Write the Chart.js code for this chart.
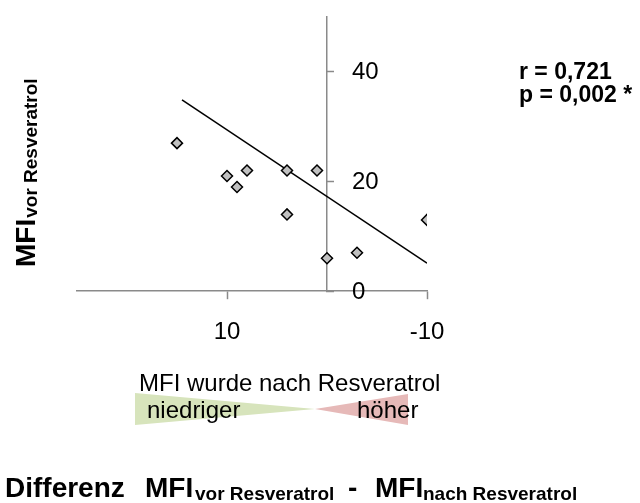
<!DOCTYPE html>
<html>
<head>
<meta charset="utf-8">
<script src="https://cdn.jsdelivr.net/npm/chart.js@4.4.1/dist/chart.umd.min.js"></script>
<style>
  html, body { margin: 0; padding: 0; background: #ffffff; }
  #wrap { position: relative; width: 640px; height: 503px; }
</style>
</head>
<body>
<div id="wrap"><canvas id="mfiChart"></canvas></div>
<script>
// Differenz MFI vor - nach Resveratrol gegen MFI vor Resveratrol
var diffValues = [15, 10, 9, 8, 4, 4, 1, 0, -3, -10];
var mfiValues = [27, 21, 19, 22, 22, 14, 22, 6, 7, 13];
var trendX = [14.5, -10];
var trendY = [34.9, 5.1];
var xTickValues = [10, -10];
var yTickValues = [0, 20, 40];

var FONT = '"Liberation Sans", Arial, sans-serif';
var AXIS_GRAY = '#8a8a8a';

var points = diffValues.map(function (v, i) {
    return { x: v, y: mfiValues[i] };
});
var trend = trendX.map(function (v, i) {
    return { x: v, y: trendY[i] };
});

// texts around the plot
var annotations = {
    id: 'annotations',
    afterDraw: function (chart) {
        var ctx = chart.ctx;
        var xs = chart.scales.x;
        var ys = chart.scales.y;
        ctx.save();
        ctx.fillStyle = '#000';

        // y tick labels sit right of the axis at x = 0
        ctx.font = '24px ' + FONT;
        ctx.textAlign = 'left';
        ctx.textBaseline = 'middle';
        var axisX = xs.getPixelForValue(0);
        yTickValues.forEach(function (v) {
            ctx.fillText(String(v), axisX + 25, ys.getPixelForValue(v) + 1);
        });

        ctx.textBaseline = 'alphabetic';

        // correlation
        ctx.font = 'bold 23px ' + FONT;
        ctx.fillText('r = 0,721', 519, 79);
        ctx.fillText('p = 0,002 *', 519, 102);

        // y title, rotated
        ctx.save();
        ctx.translate(35, 267);
        ctx.rotate(-Math.PI / 2);
        ctx.font = 'bold 28px ' + FONT;
        ctx.fillText('MFI', 0, 0);
        var w = ctx.measureText('MFI').width;
        ctx.font = 'bold 19px ' + FONT;
        ctx.fillText('vor Resveratrol', w + 1, 2);
        ctx.restore();

        // lower / higher wedges
        ctx.fillStyle = '#d7e4bc';
        ctx.beginPath();
        ctx.moveTo(135, 393);
        ctx.lineTo(315, 409);
        ctx.lineTo(135, 425);
        ctx.closePath();
        ctx.fill();
        ctx.fillStyle = '#e6b9b8';
        ctx.beginPath();
        ctx.moveTo(315, 409);
        ctx.lineTo(408, 394);
        ctx.lineTo(408, 425);
        ctx.closePath();
        ctx.fill();

        ctx.fillStyle = '#000';
        ctx.font = '24px ' + FONT;
        ctx.fillText('MFI wurde nach Resveratrol', 139, 391);
        ctx.fillText('niedriger', 147, 418);
        ctx.fillText('höher', 357, 418);

        // x title with subscripts
        ctx.font = 'bold 28px ' + FONT;
        ctx.fillText('Differenz', 5, 497);
        ctx.fillText('MFI', 145, 497);
        ctx.fillText('-', 348, 497);
        ctx.fillText('MFI', 375, 497);
        ctx.font = 'bold 19px ' + FONT;
        ctx.fillText('vor Resveratrol', 195, 500);
        ctx.fillText('nach Resveratrol', 423, 500);

        ctx.restore();
    }
};

var ctx = document.getElementById('mfiChart').getContext('2d');
new Chart(ctx, {
    type: 'scatter',
    data: {
        datasets: [{
            label: 'MFI',
            data: points,
            pointStyle: 'rectRot',
            pointRadius: 5.5,
            pointBackgroundColor: '#c0c0c0',
            pointBorderColor: '#000000',
            pointBorderWidth: 1.5
        }, {
            label: 'Trend',
            data: trend,
            showLine: true,
            pointRadius: 0,
            borderColor: '#000000',
            borderWidth: 1.5,
            fill: false
        }]
    },
    options: {
        responsive: true,
        maintainAspectRatio: false,
        animation: false,
        layout: { padding: { left: 77, right: 213, top: 17, bottom: 137 } },
        plugins: {
            legend: { display: false },
            tooltip: { enabled: false }
        },
        scales: {
            x: {
                type: 'linear',
                position: 'bottom',
                reverse: true,
                min: -10,
                max: 25,
                afterBuildTicks: function (scale) {
                    scale.ticks = xTickValues.map(function (v) { return { value: v }; });
                },
                ticks: {
                    padding: 19,
                    color: '#000',
                    font: { family: FONT, size: 24 },
                    maxRotation: 0,
                    autoSkip: false,
                    callback: function (value) { return String(value); }
                },
                grid: {
                    drawOnChartArea: false,
                    drawTicks: true,
                    tickLength: 8,
                    tickColor: AXIS_GRAY,
                    tickWidth: 1.5
                },
                border: { color: AXIS_GRAY, width: 1.5 }
            },
            y: {
                type: 'linear',
                position: { x: 0 },
                min: 0,
                max: 50,
                afterBuildTicks: function (scale) {
                    scale.ticks = yTickValues.map(function (v) { return { value: v }; });
                },
                ticks: { display: false },
                grid: {
                    drawOnChartArea: false,
                    drawTicks: true,
                    tickLength: -8,
                    tickColor: AXIS_GRAY,
                    tickWidth: 1.5
                },
                border: { color: AXIS_GRAY, width: 1.5 }
            }
        }
    },
    plugins: [annotations]
});
</script>
</body>
</html>
